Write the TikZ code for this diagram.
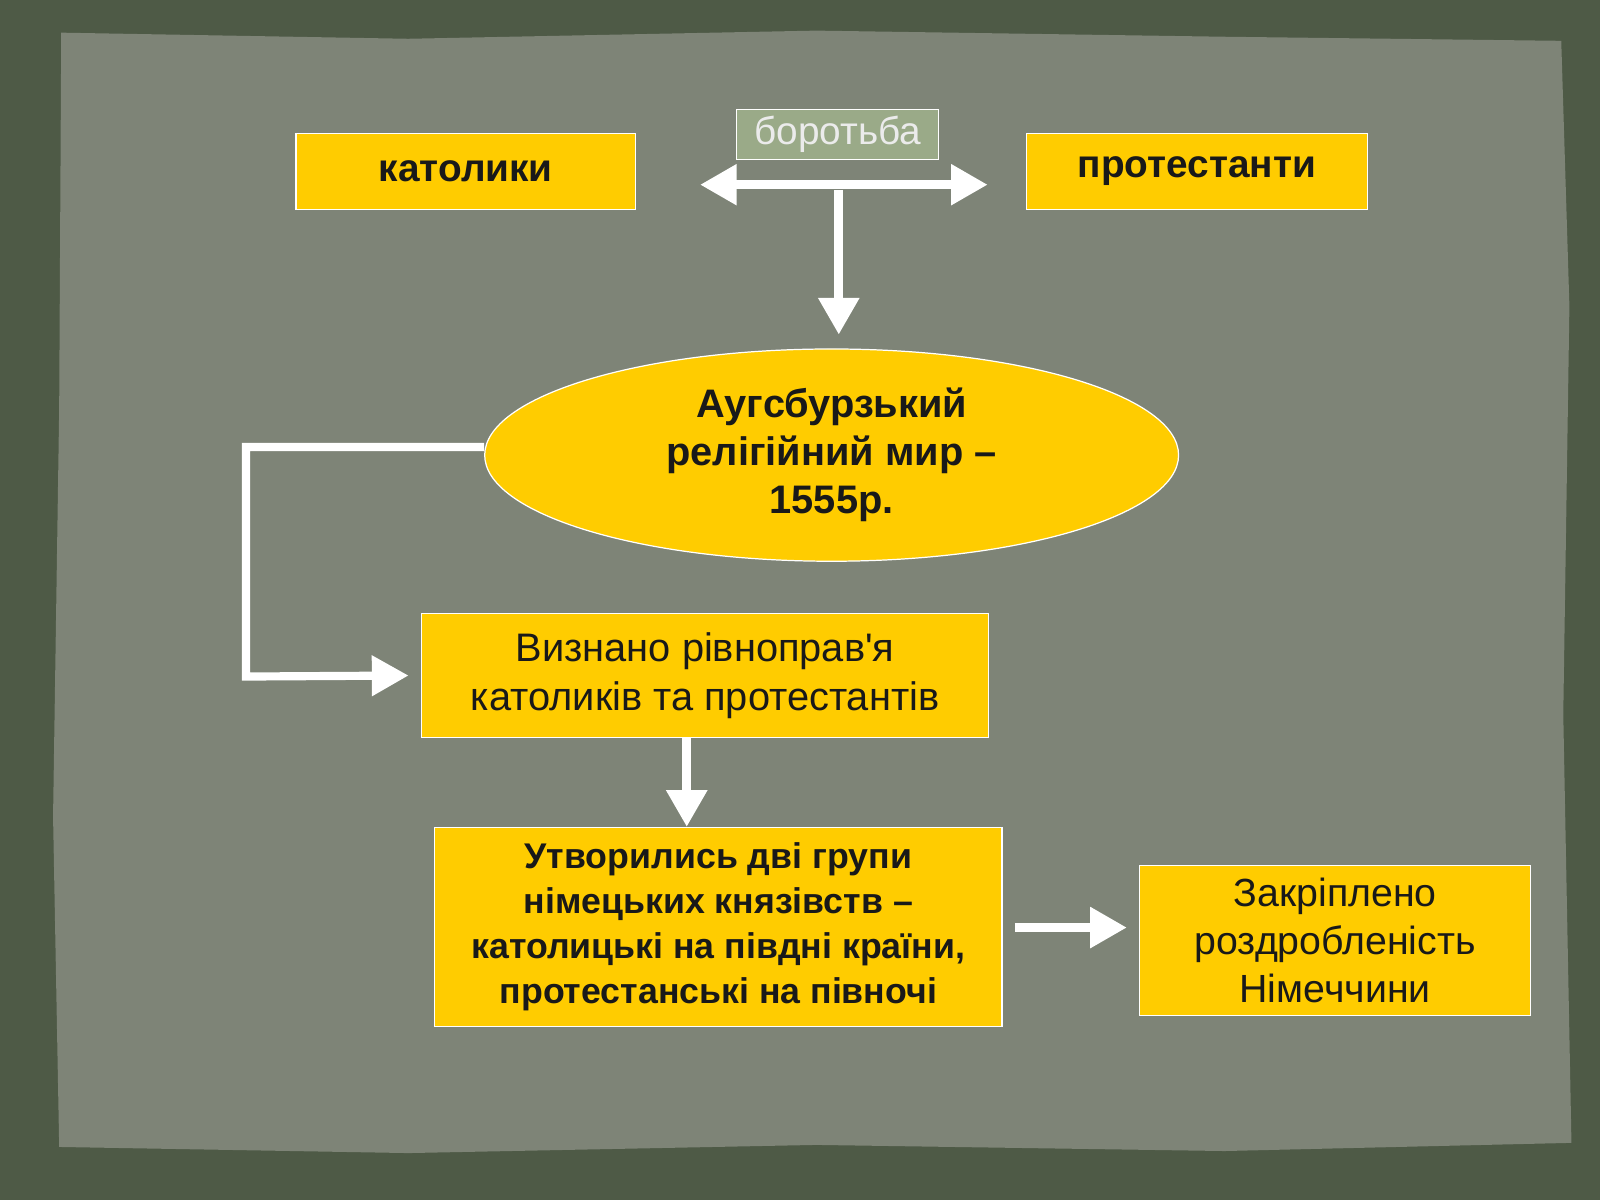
\documentclass[tikz,border=0pt]{standalone}
\usepackage{fontspec}
\setmainfont{Liberation Sans}
\newfontfamily\apf{Liberation Sans}
\usetikzlibrary{shapes.geometric,arrows.meta}
\definecolor{frame}{HTML}{4E5A46}
\definecolor{panel}{HTML}{7E8477}
\definecolor{gold}{HTML}{FFCC00}
\definecolor{sage}{HTML}{9AAA88}
\tikzset{
 ybox/.style={draw=white,line width=1.2pt,fill=gold,align=center,text=black!90,inner sep=0},
 warrow/.style={draw=white,line width=9pt,-{Triangle[length=36pt,width=38pt]}},
}
\begin{document}
\begin{tikzpicture}[x=1pt,y=-1pt]
\useasboundingbox (0,0) rectangle (1568,1176);
\fill[frame] (0,0) rectangle (1568,1176);
\fill[panel] (60,32) -- (400,38) -- (800,30) -- (1200,36) -- (1530,40) -- (1538,300) -- (1532,700) -- (1540,1120) -- (1200,1128) -- (800,1122) -- (400,1130) -- (58,1124) -- (52,800) -- (58,400) -- cycle;
\node[ybox,minimum width=333,minimum height=74,font=\fontsize{38}{44}\selectfont\bfseries] (kat) at (456.5,168) {католики};
\node[ybox,minimum width=334,minimum height=74,font=\fontsize{38}{44}\selectfont\bfseries] (pro) at (1173,168) {протестанти};
\node[draw=white,line width=1.2pt,fill=sage,text=white!92!black,minimum width=198,minimum height=49,inner sep=0,font=\fontsize{38}{44}\selectfont] (bor) at (821,131.5) {боротьба};
\coordinate (dl) at (686,181);
\coordinate (dr) at (968,181);
\draw[white,line width=9pt,{Triangle[length=36pt,width=38pt]}-{Triangle[length=36pt,width=38pt]}] (dl) -- (dr);
\coordinate (vt) at (822,186);
\node[ellipse,draw=white,line width=1.2pt,fill=gold,minimum width=680,minimum height=208,align=center,inner sep=0,font=\fontsize{39}{47}\selectfont\bfseries,text=black!90] (aug) at (815,446) {Аугсбурзький\\релігійний мир –\\1555р.};
\draw[warrow] (vt) -- (822,328);
\node[ybox,minimum width=556,minimum height=122,font=\fontsize{39}{48}\selectfont] (viz) at (691,662) {Визнано рівноправ{\apf'}я\\католиків та протестантів};
\coordinate (c1) at (241,438);
\draw[white,line width=8pt,-{Triangle[length=36pt,width=38pt]}] (aug.west|-c1) -- (c1) -- (241,663) -- ([xshift=-12pt]viz.west);
\node[ybox,minimum width=556,minimum height=195,font=\fontsize{35}{44}\selectfont\bfseries] (utv) at (704,908.5) {Утворились дві групи\\німецьких князівств –\\католицькі на півдні країни,\\протестанські на півночі};
\draw[warrow] (673,723) -- (utv.north-|673,0);
\node[ybox,minimum width=383,minimum height=147,font=\fontsize{38.5}{47}\selectfont] (zak) at (1308.5,921.5) {Закріплено\\роздробленість\\Німеччини};
\draw[warrow] ([xshift=12pt]utv.east|-0,909) -- ([xshift=-12pt]zak.west|-0,909);
\end{tikzpicture}
\end{document}
